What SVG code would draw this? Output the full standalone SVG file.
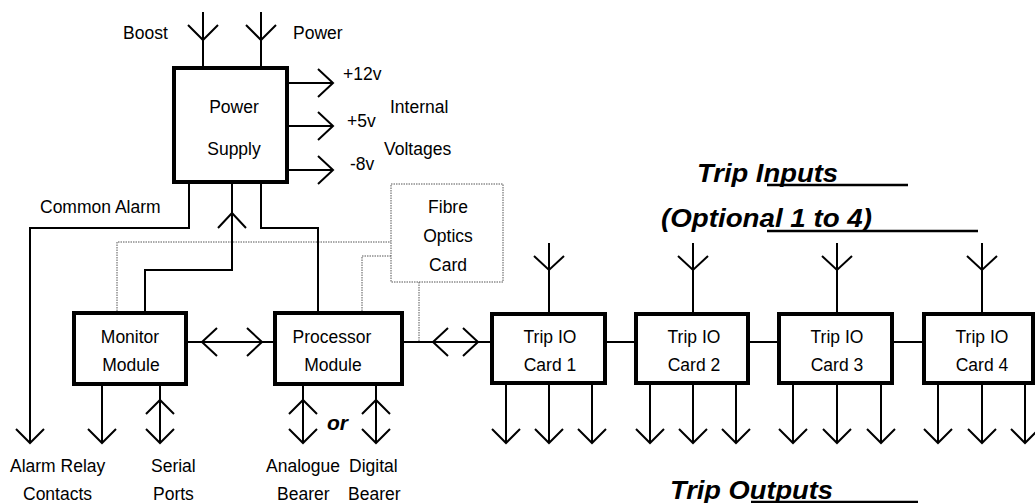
<svg xmlns="http://www.w3.org/2000/svg" width="1035" height="503" viewBox="0 0 1035 503">
<style>
text{font-family:"Liberation Sans",Arial,sans-serif;font-size:17.5px;fill:#000}
.c{text-anchor:middle}
.t{font-weight:bold;font-style:italic;font-size:26px}
.box{fill:#fff;stroke:#000;stroke-width:4}
.ln{fill:none;stroke:#000;stroke-width:2}
.dot{fill:none;stroke:#555;stroke-width:1;stroke-dasharray:1.5 1}
.ul{stroke:#000;stroke-width:2.5}
</style>
<rect width="1035" height="503" fill="#fff"/>
<g id="connectors">
<!-- dotted fibre links -->
<polyline class="dot" points="117,311 117,242 391,242"/>
<polyline class="dot" points="362,311 362,256 391,256"/>
<line class="dot" x1="419" y1="282" x2="419" y2="342"/>
<!-- power inputs -->
<line class="ln" x1="203" y1="12" x2="203" y2="66"/><polyline class="ln" points="188,25 203,40 218,25"/>
<line class="ln" x1="261" y1="12" x2="261" y2="66"/><polyline class="ln" points="246,25 261,40 276,25"/>
<!-- voltages -->
<line class="ln" x1="289" y1="83" x2="333" y2="83"/><polyline class="ln" points="318,69 333,83 318,97"/>
<line class="ln" x1="289" y1="126" x2="333" y2="126"/><polyline class="ln" points="318,112 333,126 318,140"/>
<line class="ln" x1="289" y1="170" x2="333" y2="170"/><polyline class="ln" points="318,156 333,170 318,184"/>
<!-- common alarm -->
<polyline class="ln" points="189,184 189,228 30,228 30,443"/><polyline class="ln" points="16,429 30,443 44,429"/>
<!-- monitor to PSU -->
<polyline class="ln" points="232,184 232,270 145,270 145,311"/><polyline class="ln" points="218,228 232,213 246,228"/>
<!-- PSU to processor -->
<polyline class="ln" points="261,184 261,228 318,228 318,311"/>
<!-- monitor <-> processor -->
<line class="ln" x1="188" y1="342" x2="273" y2="342"/>
<polyline class="ln" points="217,328 202,342 217,356"/><polyline class="ln" points="247,328 262,342 247,356"/>
<!-- processor <-> trip -->
<line class="ln" x1="404" y1="342" x2="490" y2="342"/>
<polyline class="ln" points="448,328 433,342 448,356"/><polyline class="ln" points="463,328 478,342 463,356"/>
<!-- card links -->
<line class="ln" x1="607" y1="342" x2="634" y2="342"/>
<line class="ln" x1="750" y1="342" x2="777" y2="342"/>
<line class="ln" x1="894" y1="342" x2="922" y2="342"/>
<!-- monitor outputs -->
<line class="ln" x1="102" y1="386" x2="102" y2="443"/><polyline class="ln" points="88,429 102,443 116,429"/>
<line class="ln" x1="160" y1="386" x2="160" y2="443"/><polyline class="ln" points="146,414 160,400 174,414"/><polyline class="ln" points="146,429 160,443 174,429"/>
<!-- processor outputs -->
<line class="ln" x1="303" y1="386" x2="303" y2="443"/><polyline class="ln" points="289,414 303,400 317,414"/><polyline class="ln" points="289,429 303,443 317,429"/>
<line class="ln" x1="376" y1="386" x2="376" y2="443"/><polyline class="ln" points="362,414 376,400 390,414"/><polyline class="ln" points="362,429 376,443 390,429"/>
<!-- trip inputs -->
<line class="ln" x1="549" y1="243" x2="549" y2="312"/><polyline class="ln" points="534,256 549,270 564,256"/>
<line class="ln" x1="693" y1="243" x2="693" y2="312"/><polyline class="ln" points="678,256 693,270 708,256"/>
<line class="ln" x1="837" y1="243" x2="837" y2="312"/><polyline class="ln" points="822,256 837,270 852,256"/>
<line class="ln" x1="982" y1="243" x2="982" y2="312"/><polyline class="ln" points="967,256 982,270 997,256"/>
<!-- trip outputs -->
<g id="outs">
<line class="ln" x1="506" y1="385" x2="506" y2="443"/><polyline class="ln" points="492,429 506,443 520,429"/>
<line class="ln" x1="549" y1="385" x2="549" y2="443"/><polyline class="ln" points="535,429 549,443 563,429"/>
<line class="ln" x1="592" y1="385" x2="592" y2="443"/><polyline class="ln" points="578,429 592,443 606,429"/>
<line class="ln" x1="650" y1="385" x2="650" y2="443"/><polyline class="ln" points="636,429 650,443 664,429"/>
<line class="ln" x1="693" y1="385" x2="693" y2="443"/><polyline class="ln" points="679,429 693,443 707,429"/>
<line class="ln" x1="736" y1="385" x2="736" y2="443"/><polyline class="ln" points="722,429 736,443 750,429"/>
<line class="ln" x1="793" y1="385" x2="793" y2="443"/><polyline class="ln" points="779,429 793,443 807,429"/>
<line class="ln" x1="837" y1="385" x2="837" y2="443"/><polyline class="ln" points="823,429 837,443 851,429"/>
<line class="ln" x1="881" y1="385" x2="881" y2="443"/><polyline class="ln" points="867,429 881,443 895,429"/>
<line class="ln" x1="938" y1="385" x2="938" y2="443"/><polyline class="ln" points="924,429 938,443 952,429"/>
<line class="ln" x1="982" y1="385" x2="982" y2="443"/><polyline class="ln" points="968,429 982,443 996,429"/>
<line class="ln" x1="1025" y1="385" x2="1025" y2="443"/><polyline class="ln" points="1011,429 1025,443 1039,429"/>
</g>
</g>
<g id="psu"><rect class="box" x="174" y="68" width="113" height="114"/>
<text class="c" x="234" y="113">Power</text><text class="c" x="234" y="155">Supply</text></g>
<g id="monitor"><rect class="box" x="74" y="313" width="112" height="71"/>
<text class="c" x="130" y="343">Monitor</text><text class="c" x="131" y="371">Module</text></g>
<g id="processor"><rect class="box" x="275" y="313" width="127" height="71"/>
<text class="c" x="332" y="343">Processor</text><text class="c" x="333" y="371">Module</text></g>
<g id="fibre"><rect x="391" y="184" width="112" height="98" fill="#fff" stroke="#555" stroke-width="1" stroke-dasharray="1.5 1"/>
<text class="c" x="448" y="213">Fibre</text><text class="c" x="448" y="242">Optics</text><text class="c" x="448" y="271">Card</text></g>
<g id="card1"><rect class="box" x="492" y="314" width="113" height="69"/>
<text class="c" x="550" y="343">Trip IO</text><text class="c" x="550" y="371">Card 1</text></g>
<g id="card2"><rect class="box" x="636" y="314" width="112" height="69"/>
<text class="c" x="694" y="343">Trip IO</text><text class="c" x="694" y="371">Card 2</text></g>
<g id="card3"><rect class="box" x="779" y="314" width="113" height="69"/>
<text class="c" x="837" y="343">Trip IO</text><text class="c" x="837" y="371">Card 3</text></g>
<g id="card4"><rect class="box" x="924" y="314" width="109" height="69"/>
<text class="c" x="982" y="343">Trip IO</text><text class="c" x="982" y="371">Card 4</text></g>
<g id="labels">
<text x="123" y="39">Boost</text>
<text x="293" y="39">Power</text>
<text x="343" y="80">+12v</text>
<text x="347" y="127">+5v</text>
<text x="350" y="170">-8v</text>
<text x="390" y="113">Internal</text>
<text x="384" y="155">Voltages</text>
<text x="40" y="213">Common Alarm</text>
<text x="10" y="472">Alarm Relay</text>
<text x="23" y="500">Contacts</text>
<text x="151" y="472">Serial</text>
<text x="153" y="500">Ports</text>
<text x="266" y="472">Analogue</text>
<text x="349" y="472">Digital</text>
<text x="277" y="500">Bearer</text>
<text x="348" y="500">Bearer</text>
<text x="327" y="430" style="font-weight:bold;font-style:italic;font-size:21px">or</text>
<text class="t" x="697" y="182" textLength="141" lengthAdjust="spacingAndGlyphs">Trip Inputs</text>
<text class="t" x="661" y="227" textLength="211" lengthAdjust="spacingAndGlyphs">(Optional 1 to 4)</text>
<text class="t" x="670" y="499" textLength="163" lengthAdjust="spacingAndGlyphs">Trip Outputs</text>
<line class="ul" x1="767" y1="185" x2="908" y2="185"/>
<line class="ul" x1="767" y1="231" x2="978" y2="231"/>
<line class="ul" x1="751" y1="502" x2="918" y2="502"/>
</g>
</svg>
